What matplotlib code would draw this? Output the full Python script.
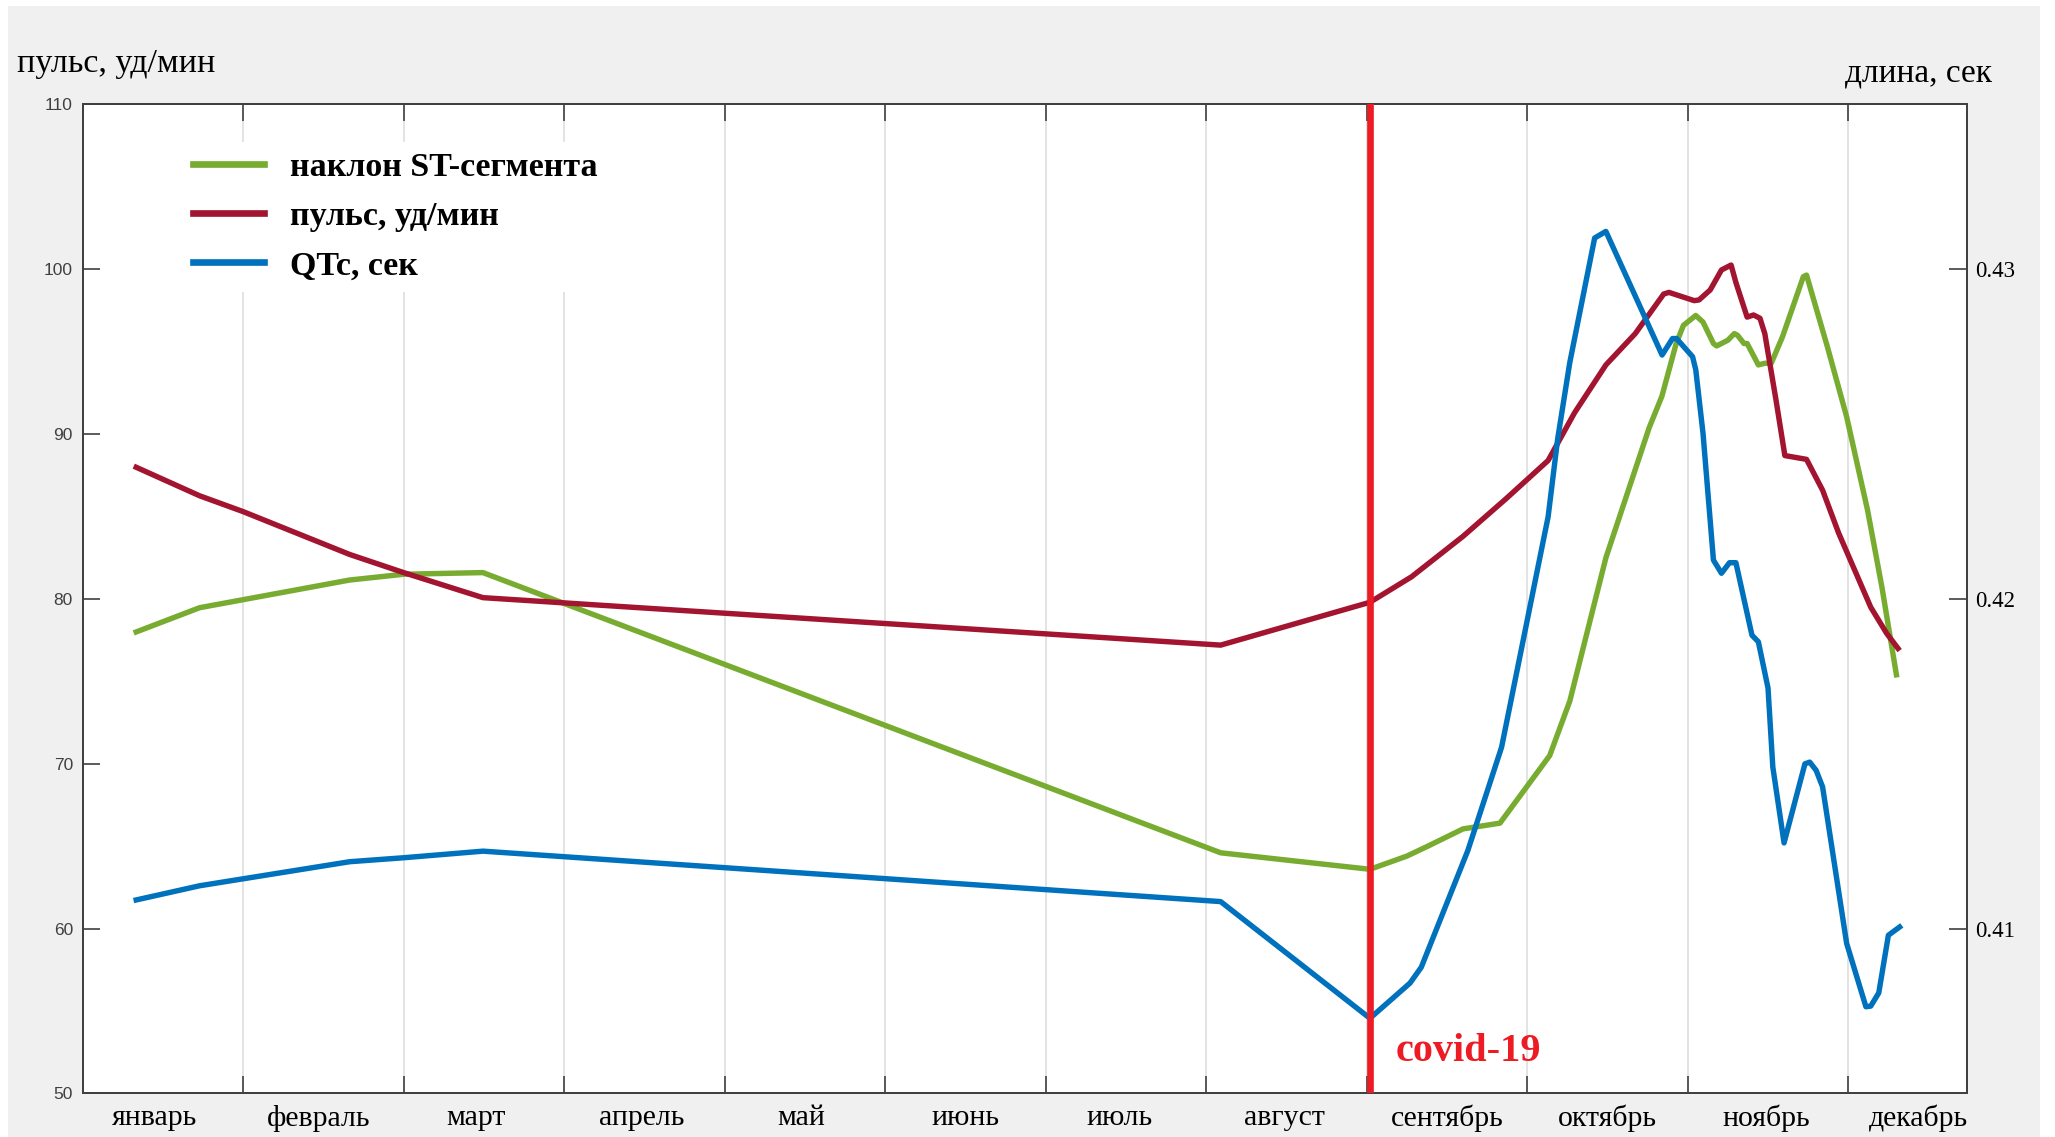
import matplotlib.pyplot as plt
from matplotlib.patches import Rectangle

# месяцы и позиции подписей (в единицах "месяц от начала года")
mesyacy = ['январь', 'февраль', 'март', 'апрель', 'май', 'июнь',
           'июль', 'август', 'сентябрь', 'октябрь', 'ноябрь', 'декабрь']
mesyacy_x = [0.45, 1.47, 2.45, 3.48, 4.48, 5.5, 6.46, 7.49, 8.5, 9.5, 10.49, 11.44]
granicy = list(range(1, 12))
covid_x = 8.02

# наклон ST-сегмента (шкала слева)
st_x = [0.334, 0.729, 1.664, 2.0, 2.494, 7.09, 8.02, 8.25, 8.38, 8.60, 8.83,
        9.14, 9.265, 9.49, 9.76, 9.839, 9.928, 9.973, 10.05, 10.095, 10.16,
        10.18, 10.25, 10.29, 10.31, 10.35, 10.37, 10.44, 10.48, 10.52, 10.59,
        10.72, 10.74, 10.87, 10.99, 11.12, 11.21, 11.30]
st_y = [78.0, 79.47, 81.15, 81.5, 81.6, 64.6, 63.6, 64.4, 65.0, 66.05, 66.4,
        70.5, 73.8, 82.5, 90.4, 92.3, 95.5, 96.6, 97.2, 96.8, 95.5,
        95.35, 95.7, 96.1, 96.0, 95.5, 95.5, 94.2, 94.3, 94.3, 95.9,
        99.55, 99.65, 95.3, 91.05, 85.4, 80.7, 75.4]

# пульс, уд/мин (шкала слева)
hr_x = [0.334, 0.729, 1.0, 1.664, 2.0, 2.494, 7.09, 8.02, 8.28, 8.60, 8.87,
        9.13, 9.295, 9.49, 9.673, 9.85, 9.883, 10.04, 10.07, 10.14, 10.21,
        10.27, 10.30, 10.37, 10.41, 10.45, 10.48, 10.55, 10.605, 10.74, 10.84,
        10.94, 11.04, 11.14, 11.24, 11.31]
hr_y = [87.99, 86.26, 85.3, 82.7, 81.6, 80.08, 77.2, 79.8, 81.35, 83.8, 86.1,
        88.4, 91.3, 94.2, 96.1, 98.5, 98.6, 98.1, 98.14, 98.75, 99.96,
        100.26, 99.2, 97.1, 97.23, 97.03, 96.1, 92.06, 88.7, 88.47, 86.6,
        84.0, 81.75, 79.5, 77.9, 77.0]

# QTc, сек (шкала справа)
qt_x = [0.334, 0.729, 1.664, 2.0, 2.494, 7.09, 8.02, 8.27, 8.34, 8.63, 8.84,
        9.13, 9.19, 9.265, 9.42, 9.49, 9.84, 9.905, 9.93, 10.03, 10.05,
        10.095, 10.16, 10.21, 10.26, 10.30, 10.40, 10.44, 10.47, 10.50, 10.53,
        10.60, 10.73, 10.76, 10.80, 10.84, 10.99, 11.11, 11.14, 11.19, 11.25, 11.32]
qt_y = [0.41087, 0.4113, 0.41203, 0.41215, 0.41235, 0.41082, 0.40728, 0.40835,
        0.40883, 0.41237, 0.4155, 0.42249, 0.42487, 0.42717, 0.43095, 0.43115,
        0.4274, 0.4279, 0.4279, 0.42735, 0.42695, 0.42503, 0.42118, 0.42078,
        0.4211, 0.4211, 0.4189, 0.4187, 0.418, 0.4173, 0.4149, 0.4126, 0.415,
        0.41505, 0.4148, 0.4143, 0.40955, 0.40763, 0.40765, 0.40805, 0.4098, 0.41005]

serif = 'Liberation Serif'
sans = 'Liberation Sans'
c_st, c_hr, c_qt = '#77ac30', '#a2142f', '#0072bd'
c_covid = '#ed1c24'
c_axis = '#404040'

fig = plt.figure(figsize=(20.55, 11.37), dpi=100, facecolor='white')
fig.patches.append(Rectangle((8 / 2055, 0), (2040 - 8) / 2055, 1 - 6 / 1137,
                             transform=fig.transFigure, facecolor='#f0f0f0',
                             edgecolor='none', zorder=-10))

ax = fig.add_axes([0.0402, 0.0383, 0.9170, 0.8698])
ax2 = ax.twinx()

lw = 3.9
l1, = ax.plot(st_x, st_y, color=c_st, lw=lw, label='наклон ST-сегмента')
l2, = ax.plot(hr_x, hr_y, color=c_hr, lw=lw, label='пульс, уд/мин')
l3, = ax2.plot(qt_x, qt_y, color=c_qt, lw=lw, label='QTc, сек')
ax2.axvline(covid_x, color=c_covid, lw=4.8, zorder=5)

ax.set_xlim(0, 11.74)
ax.set_ylim(50, 110)
ax.set_yticks(range(50, 111, 10))
ax2.set_ylim(0.405, 0.435)
ax2.set_yticks([0.41, 0.42, 0.43])
ax2.set_yticklabels(['0.41', '0.42', '0.43'])

# вертикальная сетка по границам месяцев, подписи посередине
ax.set_xticks(granicy)
ax.set_xticklabels([])
ax.set_xticks(mesyacy_x, minor=True)
ax.set_xticklabels(mesyacy, minor=True, fontfamily=serif, fontsize=21.5)
ax.tick_params(axis='x', which='minor', length=0, pad=8)
ax.tick_params(axis='x', which='major', direction='in', length=12,
               width=1.2, color=c_axis, top=True)
ax.grid(True, axis='x', which='major', color='#e3e3e3', lw=1.4)
ax.tick_params(axis='y', direction='in', length=12, width=1.2, color=c_axis,
               labelsize=12.5, labelcolor=c_axis, pad=7)
for t in ax.get_yticklabels():
    t.set_fontfamily(sans)
ax2.tick_params(axis='y', direction='in', length=13, width=1.2, color=c_axis,
                labelsize=16.5, pad=6)
for t in ax2.get_yticklabels():
    t.set_fontfamily(serif)

for a in (ax, ax2):
    for s in a.spines.values():
        s.set_color(c_axis)
        s.set_linewidth(1.3)

fig.text(17 / 2055, 1 - 72 / 1137, 'пульс, уд/мин', fontfamily=serif,
         fontsize=24.5, ha='left', va='baseline')
fig.text(1992 / 2055, 1 - 82 / 1137, 'длина, сек', fontfamily=serif,
         fontsize=24, ha='right', va='baseline')

ax2.text(covid_x + 0.16, 0.40597, 'covid-19', color=c_covid,
         fontfamily=serif, fontweight='bold', fontsize=29, va='baseline',
         ha='left', zorder=6)

leg = ax2.legend(handles=[l1, l2, l3], loc='upper left',
                 bbox_to_anchor=(0.053, 0.962), frameon=True,
                 facecolor='white', edgecolor='none', framealpha=1,
                 prop={'family': serif, 'weight': 'bold', 'size': 24.5},
                 handlelength=2.1, handletextpad=0.76, labelspacing=0.53,
                 borderpad=0.3, borderaxespad=0)
for h in leg.get_lines():
    h.set_linewidth(4.8)
leg.set_zorder(10)

fig.savefig('out.png', dpi=100, facecolor=fig.get_facecolor())
